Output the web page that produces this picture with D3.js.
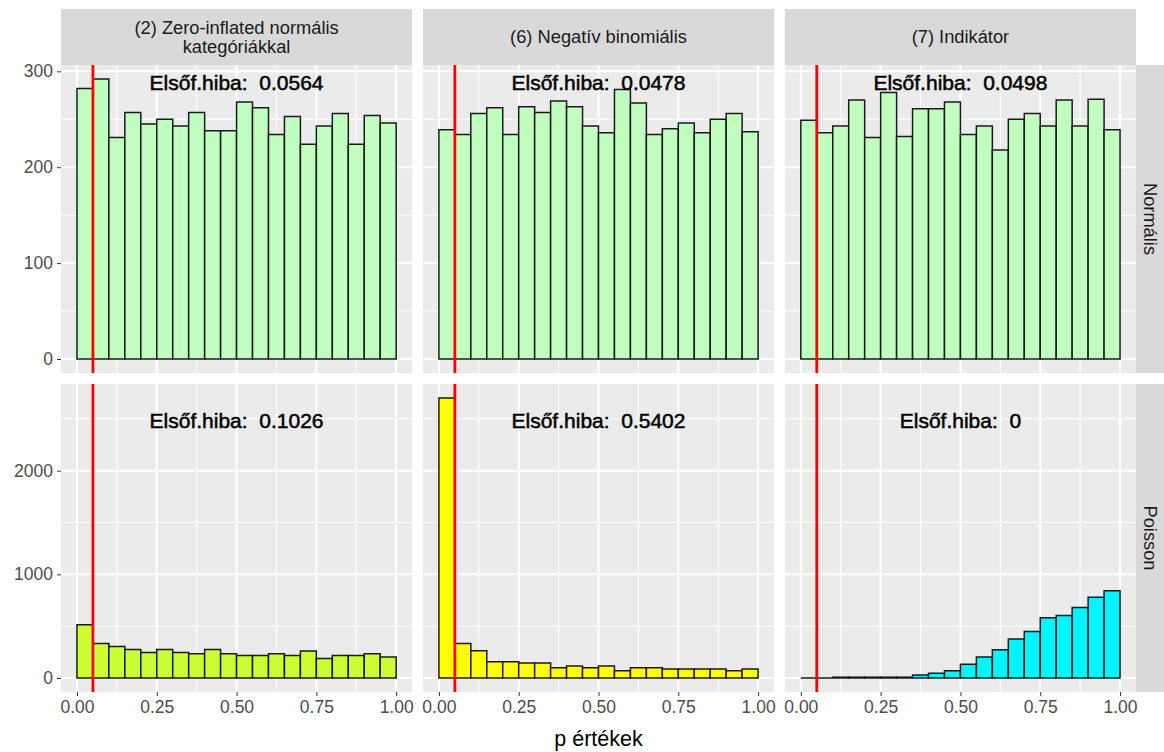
<!DOCTYPE html>
<html>
<head>
<meta charset="utf-8">
<script src="https://cdn.jsdelivr.net/npm/d3@7"></script>
<style>
  body { margin: 0; background: #fff; }
  text { font-family: "Liberation Sans", Arial, sans-serif; }
</style>
</head>
<body>
<svg id="chart" width="1164" height="752"></svg>
<script>
// ---- data ----
const columns = ["(2) Zero-inflated normális\nkategóriákkal", "(6) Negatív binomiális", "(7) Indikátor"];
const rows = ["Normális", "Poisson"];
const binEdges = d3.range(0, 1.0001, 0.05).map(v => +v.toFixed(2)); // 20 bins of width 0.05
const xTicks = [0, 0.25, 0.5, 0.75, 1];
const xTickLabels = ["0.00", "0.25", "0.50", "0.75", "1.00"];
const yTicksTop = [0, 100, 200, 300];
const yTicksBottom = [0, 1000, 2000];
const alpha = 0.05;

// counts per panel (row, column)
const countsNormZI   = [282, 292, 231, 257, 245, 250, 243, 257, 238, 238, 268, 262, 234, 253, 224, 243, 256, 224, 254, 246];
const countsNormNB   = [239, 234, 256, 262, 234, 263, 257, 269, 263, 243, 236, 281, 267, 234, 240, 246, 236, 250, 256, 237];
const countsNormInd  = [249, 236, 243, 270, 231, 278, 232, 261, 261, 268, 234, 243, 218, 250, 256, 243, 270, 243, 271, 239];
const countsPoisZI   = [513, 334, 305, 276, 247, 276, 247, 234, 276, 234, 218, 218, 234, 218, 260, 189, 218, 218, 234, 202];
const countsPoisNB   = [2701, 334, 263, 157, 157, 144, 144, 100, 116, 100, 116, 71, 100, 100, 87, 87, 87, 87, 71, 87];
const countsPoisInd  = [0, 0, 8, 8, 8, 8, 8, 29, 45, 71, 132, 202, 273, 376, 449, 581, 604, 681, 780, 841];

const errorRates = [["0.0564", "0.0478", "0.0498"], ["0.1026", "0.5402", "0"]];
const fillColors = [["#C1FFC1", "#C1FFC1", "#C1FFC1"], ["#CCFF33", "#FFFF00", "#00F5FF"]];
const annotY = [288, 2480];

const panelCounts = [[countsNormZI, countsNormNB, countsNormInd], [countsPoisZI, countsPoisNB, countsPoisInd]];

// ---- layout ----
const svg = d3.select("#chart");
const left = 61, right = 1136, gap = 10.8;
const pw = (right - left - 2 * gap) / 3;
const stripTop = 9, stripBottom = 65;
const rowY = [[65, 373], [384, 692]];
const stripRightX = 1136, stripRightW = 28;

const rowMax = panelCounts.map(r => d3.max(r.flat()));
const yScales = rowMax.map((m, i) => d3.scaleLinear().domain([-0.05 * m, 1.05 * m]).range([rowY[i][1], rowY[i][0]]));
const yTicks = [yTicksTop, yTicksBottom];
const yMinor = [[50, 150, 250], [500, 1500, 2500]];
const xMinor = [0.125, 0.375, 0.625, 0.875];

columns.forEach((col, c) => {
  const x0 = left + c * (pw + gap);
  const xs = d3.scaleLinear().domain([-0.05, 1.05]).range([x0, x0 + pw]);

  // top strip
  svg.append("rect").attr("x", x0).attr("y", stripTop).attr("width", pw).attr("height", stripBottom - stripTop).attr("fill", "#D9D9D9");
  const lines = col.split("\n");
  const st = svg.append("text").attr("x", x0 + pw / 2).attr("text-anchor", "middle")
    .attr("fill", "#1A1A1A").style("font-size", "18.3px");
  lines.forEach((l, i) => {
    const cy = (stripTop + stripBottom) / 2 + (i - (lines.length - 1) / 2) * 19.5;
    st.append("tspan").attr("x", x0 + pw / 2).attr("y", cy).attr("dy", "0.35em").text(l);
  });

  rows.forEach((row, r) => {
    const ys = yScales[r];
    const [py0, py1] = rowY[r];
    const g = svg.append("g");
    g.append("rect").attr("x", x0).attr("y", py0).attr("width", pw).attr("height", py1 - py0).attr("fill", "#EBEBEB");
    // minor grid
    yMinor[r].forEach(v => g.append("line").attr("x1", x0).attr("x2", x0 + pw).attr("y1", ys(v)).attr("y2", ys(v)).attr("stroke", "#fff").attr("stroke-width", 1));
    xMinor.forEach(v => g.append("line").attr("x1", xs(v)).attr("x2", xs(v)).attr("y1", py0).attr("y2", py1).attr("stroke", "#fff").attr("stroke-width", 1));
    // major grid
    yTicks[r].forEach(v => g.append("line").attr("x1", x0).attr("x2", x0 + pw).attr("y1", ys(v)).attr("y2", ys(v)).attr("stroke", "#fff").attr("stroke-width", 2));
    xTicks.forEach(v => g.append("line").attr("x1", xs(v)).attr("x2", xs(v)).attr("y1", py0).attr("y2", py1).attr("stroke", "#fff").attr("stroke-width", 2));

    // bars (as closed paths so zero-height bins still show their outline)
    const counts = panelCounts[r][c];
    g.selectAll("path.bar").data(counts).enter().append("path").attr("class", "bar")
      .attr("d", (d, i) => {
        const xa = xs(binEdges[i]), xb = xs(binEdges[i + 1]), yt = ys(d), yb = ys(0);
        return `M${xa},${yb}L${xa},${yt}L${xb},${yt}L${xb},${yb}Z`;
      })
      .attr("fill", fillColors[r][c])
      .attr("stroke", "#1a1a1a").attr("stroke-width", 1.5);

    // red line at alpha
    g.append("line").attr("x1", xs(alpha)).attr("x2", xs(alpha)).attr("y1", py0).attr("y2", py1)
      .attr("stroke", "#FF0000").attr("stroke-width", 2.8);

    // annotation
    g.append("text").attr("x", xs(0.5)).attr("y", ys(annotY[r])).attr("dy", "0.35em")
      .attr("text-anchor", "middle").style("font-size", "21px").style("white-space", "pre")
      .attr("xml:space", "preserve").attr("fill", "#000")
      .attr("stroke", "#000").attr("stroke-width", 0.5)
      .text("Elsőf.hiba:  " + errorRates[r][c]);

    // y axis on first column
    if (c === 0) {
      const ax = d3.axisLeft(ys).tickValues(yTicks[r]).tickFormat(d3.format("d")).tickSize(4).tickPadding(4);
      const ag = svg.append("g").attr("transform", `translate(${x0},0)`).call(ax);
      ag.select(".domain").remove();
      ag.selectAll(".tick line").attr("stroke", "#333").attr("stroke-width", 1);
      ag.selectAll(".tick text").attr("fill", "#4D4D4D").style("font-size", "17.5px").style("font-family", "'Liberation Sans', Arial, sans-serif");
    }
    // x axis on bottom row
    if (r === 1) {
      const ax = d3.axisBottom(xs).tickValues(xTicks).tickFormat((d, i) => xTickLabels[i]).tickSize(4).tickPadding(5);
      const ag = svg.append("g").attr("transform", `translate(0,${py1})`).call(ax);
      ag.select(".domain").remove();
      ag.selectAll(".tick line").attr("stroke", "#333").attr("stroke-width", 1);
      ag.selectAll(".tick text").attr("fill", "#4D4D4D").style("font-size", "17.5px").style("font-family", "'Liberation Sans', Arial, sans-serif");
    }
  });
});

// right strips
rows.forEach((row, r) => {
  const [py0, py1] = rowY[r];
  svg.append("rect").attr("x", stripRightX).attr("y", py0).attr("width", stripRightW).attr("height", py1 - py0).attr("fill", "#D9D9D9");
  const cx = stripRightX + 14, cy = (py0 + py1) / 2;
  svg.append("text").attr("transform", `translate(${cx},${cy}) rotate(90)`).attr("text-anchor", "middle").attr("dy", "0.35em")
    .attr("fill", "#1A1A1A").style("font-size", "18.3px").text(row);
});

// x axis title
svg.append("text").attr("x", (left + right) / 2).attr("y", 738).attr("dy", "0.35em").attr("text-anchor", "middle")
  .attr("fill", "#000").style("font-size", "21.5px").text("p értékek");
</script>
</body>
</html>
